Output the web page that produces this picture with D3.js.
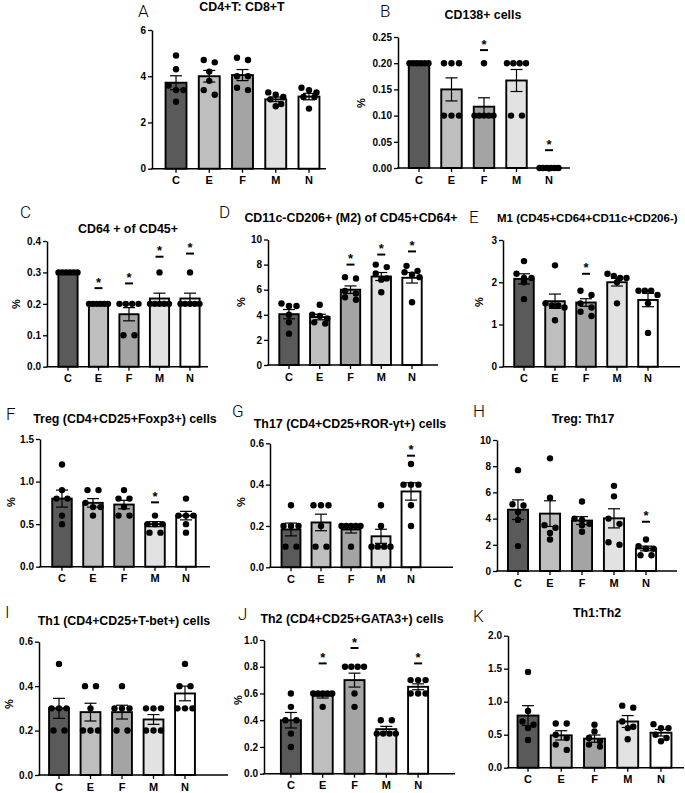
<!DOCTYPE html>
<html><head><meta charset="utf-8">
<script src="https://cdn.jsdelivr.net/npm/d3@7"></script>
<style>
body{margin:0;background:#fff}
svg{display:block}
text{font-family:"Liberation Sans",Arial,sans-serif}
</style>
</head><body>
<svg id="c" width="685" height="793"></svg>
<script>
// ---------------- DATA ----------------
const categories = ["C", "E", "F", "M", "N"];
const barFills = ["#5a5a5a", "#bebebe", "#a4a4a4", "#e2e2e2", "#ffffff"];

const panelLetters = ["A","B","C","D","E","F","G","H","I","J","K"];
const panelTitles = [
  "CD4+T: CD8+T",
  "CD138+ cells",
  "CD64 + of CD45+",
  "CD11c-CD206+ (M2) of CD45+CD64+",
  "M1 (CD45+CD64+CD11c+CD206-)",
  "Treg (CD4+CD25+Foxp3+) cells",
  "Th17 (CD4+CD25+ROR-\u03b3t+) cells",
  "Treg: Th17",
  "Th1 (CD4+CD25+T-bet+) cells",
  "Th2 (CD4+CD25+GATA3+) cells",
  "Th1:Th2"
];
const yAxisTitles = ["", "%", "%", "%", "%", "%", "%", "", "%", "%", ""];
const yMaxValues = [6, 0.25, 0.4, 10, 3, 1.5, 0.6, 10, 0.6, 1.0, 2.0];
const tickFormats = ["d", ".2f", ".1f", "d", "d", ".1f", ".1f", "d", ".1f", ".1f", ".1f"];

const ticksA = [0, 2, 4, 6];
const ticksB = [0, 0.05, 0.10, 0.15, 0.20, 0.25];
const ticksC = [0, 0.1, 0.2, 0.3, 0.4];
const ticksD = [0, 2, 4, 6, 8, 10];
const ticksE = [0, 1, 2, 3];
const ticksF = [0, 0.5, 1.0, 1.5];
const ticksG = [0, 0.2, 0.4, 0.6];
const ticksH = [0, 2, 4, 6, 8, 10];
const ticksI = [0, 0.2, 0.4, 0.6];
const ticksJ = [0, 0.2, 0.4, 0.6, 0.8, 1.0];
const ticksK = [0, 0.5, 1.0, 1.5, 2.0];

// means (bar heights) and SEM (error bars)
const meansA = [3.72, 4.0, 4.05, 3.0, 3.12];   const semA = [0.30, 0.25, 0.24, 0.10, 0.14];
const meansB = [0.20, 0.15, 0.117, 0.167, 0];  const semB = [0, 0.022, 0.017, 0.021, 0];
const meansC = [0.30, 0.20, 0.167, 0.217, 0.217]; const semC = [0, 0, 0.021, 0.017, 0.017];
const meansD = [4.05, 3.82, 6.0, 7.05, 6.95];  const semD = [0.37, 0.22, 0.30, 0.32, 0.42];
const meansE = [2.08, 1.55, 1.52, 2.0, 1.58];  const semE = [0.12, 0.17, 0.09, 0.09, 0.16];
const meansF = [0.80, 0.75, 0.73, 0.50, 0.60]; const semF = [0.10, 0.05, 0.05, 0.03, 0.05];
const meansG = [0.183, 0.217, 0.183, 0.15, 0.367]; const semG = [0.031, 0.040, 0.017, 0.034, 0.042];
const meansH = [4.68, 4.38, 3.85, 4.02, 1.72]; const semH = [0.75, 0.98, 0.30, 0.73, 0.18];
const meansI = [0.30, 0.283, 0.283, 0.25, 0.367]; const semI = [0.045, 0.040, 0.031, 0.022, 0.033];
const meansJ = [0.40, 0.583, 0.70, 0.333, 0.65]; const semJ = [0.058, 0.017, 0.052, 0.021, 0.022];
const meansK = [0.79, 0.49, 0.44, 0.70, 0.53]; const semK = [0.15, 0.07, 0.055, 0.09, 0.05];

// individual points (n = 6 per group)
const dotsA = [[4.9,4.3,3.6,3.4,3.4,2.9],[4.7,4.6,4.2,3.8,3.4,3.2],[4.8,4.7,4.0,4.0,3.5,3.4],[3.3,3.2,3.1,3.0,2.8,2.7],[3.5,3.4,3.3,3.1,3.1,2.6]];
const dotsB = [[0.2,0.2,0.2,0.2,0.2,0.2],[0.2,0.2,0.2,0.1,0.1,0.1],[0.2,0.1,0.1,0.1,0.1,0.1],[0.2,0.2,0.2,0.2,0.1,0.1],[0,0,0,0,0,0]];
const dotsC = [[0.3,0.3,0.3,0.3,0.3,0.3],[0.2,0.2,0.2,0.2,0.2,0.2],[0.2,0.2,0.2,0.2,0.1,0.1],[0.3,0.2,0.2,0.2,0.2,0.2],[0.3,0.2,0.2,0.2,0.2,0.2]];
const dotsD = [[4.9,4.7,4.7,4.0,3.4,2.5],[4.8,4.0,3.9,3.7,3.4,3.3],[7.0,6.9,5.9,5.7,5.4,5.2],[8.0,7.8,7.3,6.9,6.8,5.8],[7.9,7.5,7.4,7.2,7.0,5.0]];
const dotsE = [[2.5,2.2,2.1,2.1,2.0,1.6],[2.4,1.5,1.45,1.45,1.4,1.1],[1.8,1.7,1.5,1.4,1.3,1.2],[2.2,2.15,2.1,2.1,2.0,1.5],[1.8,1.8,1.8,1.7,1.5,0.8]];
const dotsF = [[1.2,0.9,0.8,0.8,0.6,0.5],[0.9,0.9,0.75,0.7,0.7,0.6],[0.9,0.8,0.8,0.7,0.6,0.6],[0.6,0.5,0.5,0.5,0.4,0.4],[0.8,0.6,0.6,0.6,0.5,0.4]];
const dotsG = [[0.3,0.2,0.2,0.2,0.1,0.1],[0.3,0.3,0.3,0.2,0.1,0.1],[0.2,0.2,0.2,0.2,0.2,0.1],[0.3,0.2,0.1,0.1,0.1,0.1],[0.5,0.4,0.4,0.4,0.3,0.2]];
const dotsH = [[7.7,5.1,5.0,4.5,3.9,1.9],[8.6,5.6,3.5,3.3,2.9,2.4],[5.3,4.0,3.9,3.6,3.5,3.0],[6.5,5.7,4.0,3.6,2.2,2.0],[2.4,1.9,1.7,1.7,1.2,1.2]];
const dotsI = [[0.5,0.3,0.3,0.3,0.2,0.2],[0.4,0.4,0.3,0.2,0.2,0.2],[0.4,0.3,0.3,0.3,0.2,0.2],[0.3,0.3,0.3,0.2,0.2,0.2],[0.5,0.4,0.4,0.3,0.3,0.3]];
const dotsJ = [[0.6,0.5,0.4,0.4,0.3,0.2],[0.6,0.6,0.6,0.6,0.6,0.5],[0.8,0.8,0.8,0.8,0.6,0.5],[0.4,0.4,0.3,0.3,0.3,0.3],[0.7,0.7,0.7,0.6,0.6,0.6]];
const dotsK = [[1.45,0.86,0.7,0.65,0.6,0.42],[0.67,0.67,0.5,0.45,0.35,0.27],[0.65,0.55,0.45,0.4,0.35,0.32],[0.94,0.91,0.7,0.62,0.6,0.43],[0.66,0.6,0.6,0.5,0.45,0.4]];

// significance markers (value at which the bar of "*" sits), null = none
const sigA = [null,null,null,null,null];
const sigB = [null,null,0.225,null,0.034];
const sigC = [null,0.25,0.265,0.35,0.36];
const sigD = [null,null,8.0,8.8,9.05];
const sigE = [null,null,2.2,null,null];
const sigF = [null,null,null,0.756,null];
const sigG = [null,null,null,null,0.54];
const sigH = [null,null,null,null,3.76];
const sigI = [null,null,null,null,null];
const sigJ = [null,0.825,0.94,null,0.825];
const sigK = [null,null,null,null,null];

// ---------------- LAYOUT (pixels) ----------------
// ax: y-axis x, b0/b1: band range, ae: x-axis end, yt: y of max tick, y0: y of zero
// tx,ty,ta,ts: title; lx,ly: letter; px,py: y-axis title
const layouts = [
  {ax:152, b0:159.4, b1:325.6, ae:326, yt:30,    y0:168.7, tx:242, ty:11,  ta:"middle", ts:12.4, lx:138, ly:17,  px:null, py:null},
  {ax:398, b0:402.75,b1:565.25,ae:570, yt:37,    y0:168,   tx:483, ty:19,  ta:"middle", ts:12.4, lx:380, ly:17,  px:361, py:103},
  {ax:47,  b0:52.75, b1:205.25,ae:208, yt:241,   y0:366.7, tx:128, ty:233, ta:"middle", ts:12.4, lx:20,  ly:218, px:16,  py:304},
  {ax:268, b0:273.6, b1:427.4, ae:438, yt:239.5, y0:365,   tx:351, ty:222, ta:"middle", ts:12.4, lx:219, ly:218, px:241, py:302},
  {ax:503, b0:508.5, b1:663.5, ae:680, yt:240,   y0:366.7, tx:497, ty:222, ta:"start",  ts:11.5, lx:469, ly:223, px:479, py:302},
  {ax:40,  b0:46.5,  b1:201.5, ae:210, yt:439,   y0:566.7, tx:125, ty:423, ta:"middle", ts:12.4, lx:6,   ly:420, px:11,  py:502},
  {ax:270, b0:276,   b1:426,   ae:453, yt:443.3, y0:567.3, tx:350, ty:428, ta:"middle", ts:12.4, lx:232, ly:417, px:241, py:502},
  {ax:497, b0:502,   b1:662,   ae:677, yt:440,   y0:571,   tx:583, ty:423, ta:"middle", ts:12.4, lx:473, ly:417, px:null, py:null},
  {ax:39,  b0:43.25, b1:200.75,ae:228, yt:641.7, y0:775,   tx:124, ty:625, ta:"middle", ts:12.4, lx:5,   ly:618, px:9,   py:704},
  {ax:264, b0:275,   b1:434,   ae:455, yt:640,   y0:773.7, tx:352, ty:623, ta:"middle", ts:12.4, lx:238, ly:620, px:238, py:700},
  {ax:508, b0:511.4, b1:677.6, ae:684, yt:635.7, y0:767.7, tx:597, ty:617, ta:"middle", ts:12.4, lx:473, ly:622, px:null, py:null}
];

const allTicks = [ticksA,ticksB,ticksC,ticksD,ticksE,ticksF,ticksG,ticksH,ticksI,ticksJ,ticksK];
const allMeans = [meansA,meansB,meansC,meansD,meansE,meansF,meansG,meansH,meansI,meansJ,meansK];
const allSem = [semA,semB,semC,semD,semE,semF,semG,semH,semI,semJ,semK];
const allDots = [dotsA,dotsB,dotsC,dotsD,dotsE,dotsF,dotsG,dotsH,dotsI,dotsJ,dotsK];
const allSig = [sigA,sigB,sigC,sigD,sigE,sigF,sigG,sigH,sigI,sigJ,sigK];

const svg = d3.select("#c");

function swarm(vals, y, cx) {
  const pts = vals.map(v => ({v, py: y(v)})).sort((a, b) => a.py - b.py);
  const bins = [];
  pts.forEach(p => {
    const last = bins[bins.length - 1];
    if (last && Math.abs(p.py - last[0].py) < 5.5) last.push(p); else bins.push([p]);
  });
  bins.forEach(b => {
    const n = b.length;
    let offs;
    if (n === 1) offs = [0];
    else if (n === 2) offs = [-5.5, 5.5];
    else {
      const half = Math.min(7.5 * (n - 1) / 2, 9.5);
      offs = d3.range(n).map(i => -half + 2 * half * i / (n - 1));
    }
    b.forEach((p, i) => { p.px = cx + offs[i]; });
  });
  return pts;
}

layouts.forEach((L, k) => {
  const g = svg.append("g");
  const x = d3.scaleBand().domain(categories).range([L.b0, L.b1]).paddingInner(0.37).paddingOuter(0.185);
  const y = d3.scaleLinear().domain([0, yMaxValues[k]]).range([L.y0, L.yt]);
  const bw = x.bandwidth();
  const means = allMeans[k], sem = allSem[k], dots = allDots[k], sig = allSig[k];

  // bars
  g.selectAll("rect.bar").data(categories).join("rect")
    .attr("x", c => x(c)).attr("width", bw)
    .attr("y", (c, i) => y(means[i]))
    .attr("height", (c, i) => L.y0 - y(means[i]))
    .attr("fill", (c, i) => barFills[i])
    .attr("stroke", "#000").attr("stroke-width", 1.9);

  // error bars
  categories.forEach((c, i) => {
    const cx = x(c) + bw / 2;
    if (sem[i] <= 0) return;
    const yh = y(means[i] + sem[i]), yl = y(means[i] - sem[i]);
    g.append("line").attr("x1", cx).attr("x2", cx).attr("y1", yh).attr("y2", yl).attr("stroke", "#000").attr("stroke-width", 1.2);
    [yh, yl].forEach(yy => g.append("line").attr("x1", cx - 6).attr("x2", cx + 6).attr("y1", yy).attr("y2", yy).attr("stroke", "#000").attr("stroke-width", 1.2));
  });

  // axes
  const yAxis = d3.axisLeft(y).tickValues(allTicks[k]).tickFormat(d3.format(tickFormats[k])).tickSize(4).tickSizeOuter(0).tickPadding(2);
  const ya = g.append("g").attr("transform", `translate(${L.ax},0)`).call(yAxis);
  ya.select(".domain").attr("stroke-width", 1.5);
  ya.selectAll(".tick line").attr("stroke-width", 1.3);
  ya.selectAll("text").attr("font-size", 10).attr("font-weight", "bold").attr("fill", "#000").attr("font-family", "Liberation Sans, Arial, sans-serif");

  const xAxis = d3.axisBottom(x).tickSize(4).tickSizeOuter(0).tickPadding(4);
  const xa = g.append("g").attr("transform", `translate(0,${L.y0})`).call(xAxis);
  xa.select(".domain").remove();
  xa.selectAll(".tick line").attr("stroke-width", 1.3);
  xa.selectAll("text").attr("font-size", 11).attr("font-weight", "bold").attr("fill", "#000").attr("font-family", "Liberation Sans, Arial, sans-serif");
  g.append("line").attr("x1", L.ax - 0.75).attr("x2", L.ae).attr("y1", L.y0).attr("y2", L.y0).attr("stroke", "#000").attr("stroke-width", 1.5);

  // dots
  categories.forEach((c, i) => {
    const cx = x(c) + bw / 2;
    const pts = swarm(dots[i], y, cx);
    g.selectAll(null).data(pts).join("circle")
      .attr("cx", p => p.px).attr("cy", p => p.py).attr("r", 3.2).attr("fill", "#000");
  });

  // significance
  categories.forEach((c, i) => {
    if (sig[i] == null) return;
    const cx = x(c) + bw / 2, yy = y(sig[i]);
    g.append("line").attr("x1", cx - 4).attr("x2", cx + 4).attr("y1", yy).attr("y2", yy).attr("stroke", "#000").attr("stroke-width", 2);
    g.append("text").attr("x", cx).attr("y", yy - 1.5).attr("text-anchor", "middle").attr("font-size", 13).attr("font-weight", "bold").text("*");
  });

  // title, letter, y-axis title
  g.append("text").attr("x", L.tx).attr("y", L.ty).attr("text-anchor", L.ta)
    .attr("font-size", L.ts).attr("font-weight", "bold").text(panelTitles[k]);
  g.append("text").attr("x", L.lx).attr("y", L.ly)
    .attr("font-size", 17).attr("font-weight", 300).style("font-family", "Roboto, 'Liberation Sans', sans-serif").text(panelLetters[k]);
  if (yAxisTitles[k] && L.px != null) {
    g.append("text").attr("transform", `translate(${L.px + 4},${L.py}) rotate(-90)`)
      .attr("text-anchor", "middle").attr("font-size", 11).attr("font-weight", "bold").text(yAxisTitles[k]);
  }
});
</script>
</body></html>
